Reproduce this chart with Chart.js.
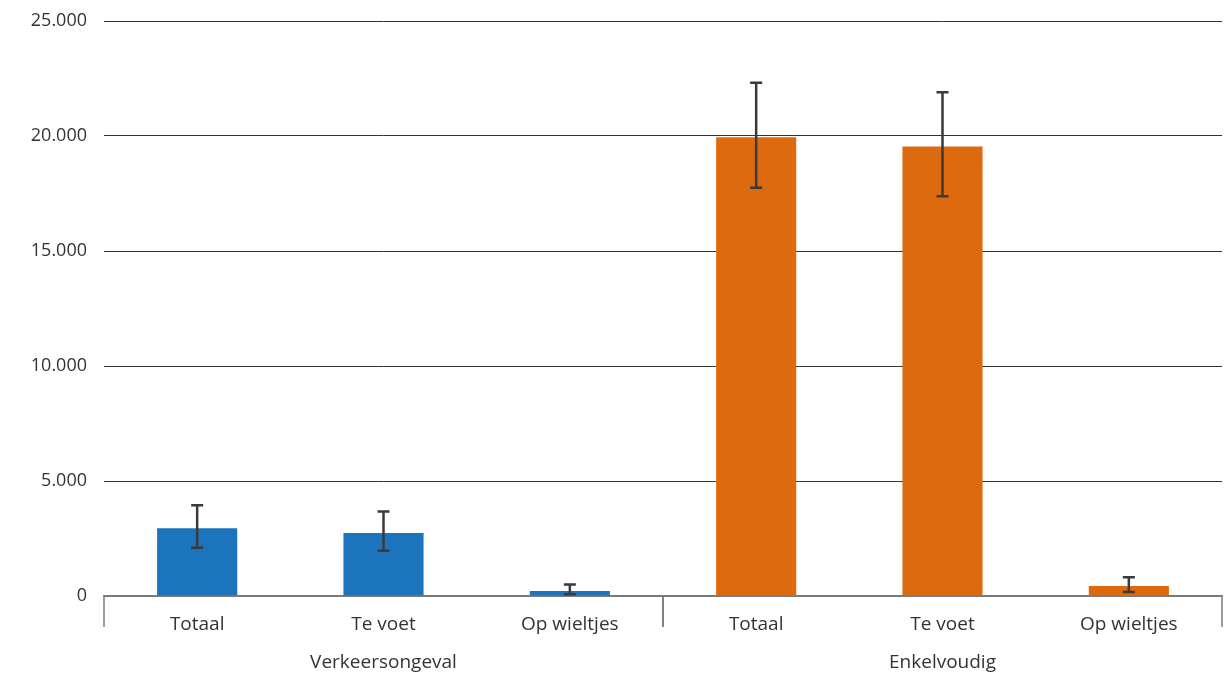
<!DOCTYPE html>
<html>
<head>
<meta charset="utf-8">
<script src="https://cdn.jsdelivr.net/npm/chart.js@4/dist/chart.umd.min.js"></script>
<style>
  html, body { margin: 0; padding: 0; background: #fff; }
  #wrap { width: 1230px; height: 674px; position: relative; }
</style>
</head>
<body>
<div id="wrap"><canvas id="chart" width="1230" height="674"></canvas></div>
<script>
// Subcategory labels under each bar
const categories = ['Totaal', 'Te voet', 'Op wieltjes', 'Totaal', 'Te voet', 'Op wieltjes'];
// Group each bar belongs to (index into groupNames)
const groupIndex = [0, 0, 0, 1, 1, 1];
const groupNames = ['Verkeersongeval', 'Enkelvoudig'];
const groupColors = ['#1C75BC', '#DE6A10'];

// Estimated values and their uncertainty range
const values = [2950, 2740, 220, 19950, 19540, 440];
const lowerBounds = [2100, 1970, 80, 17750, 17380, 170];
const upperBounds = [3950, 3670, 500, 22320, 21900, 820];

// Y axis ticks
const yTicks = [0, 5000, 10000, 15000, 20000, 25000];

const FONT = '"Open Sans", "Noto Sans", sans-serif';
const TEXT = '#333333';

function formatNL(v) {
  return String(v).replace(/\B(?=(\d{3})+(?!\d))/g, '.');
}

// Draws the vertical error bars from the lower/upper bound arrays
const errorBarPlugin = {
  id: 'errorBars',
  afterDatasetsDraw(chart) {
    const ctx = chart.ctx;
    const x = chart.scales.x;
    const y = chart.scales.y;
    ctx.save();
    ctx.strokeStyle = '#3a3a3a';
    ctx.lineWidth = 2.5;
    const cap = 6;
    values.forEach((v, i) => {
      const cx = x.getPixelForValue(i);
      const yl = y.getPixelForValue(lowerBounds[i]);
      const yh = y.getPixelForValue(upperBounds[i]);
      ctx.beginPath();
      ctx.moveTo(cx, yl); ctx.lineTo(cx, yh);
      ctx.moveTo(cx - cap, yl); ctx.lineTo(cx + cap, yl);
      ctx.moveTo(cx - cap, yh); ctx.lineTo(cx + cap, yh);
      ctx.stroke();
    });
    ctx.restore();
  }
};

// Draws the group separators and the group names below the category labels
const groupAxisPlugin = {
  id: 'groupAxis',
  afterDraw(chart) {
    const ctx = chart.ctx;
    const x = chart.scales.x;
    const area = chart.chartArea;
    const half = (x.getPixelForValue(1) - x.getPixelForValue(0)) / 2;
    ctx.save();
    ctx.strokeStyle = '#7a7a7a';
    ctx.lineWidth = 1.5;
    ctx.fillStyle = TEXT;
    ctx.font = '19px ' + FONT;
    ctx.textAlign = 'center';
    ctx.textBaseline = 'middle';
    groupNames.forEach((name, g) => {
      const idx = groupIndex.map((gi, i) => gi === g ? i : -1).filter(i => i >= 0);
      const left = x.getPixelForValue(idx[0]) - half;
      const right = x.getPixelForValue(idx[idx.length - 1]) + half;
      [left, right].forEach(px => {
        ctx.beginPath();
        ctx.moveTo(px, area.bottom);
        ctx.lineTo(px, area.bottom + 31);
        ctx.stroke();
      });
      ctx.fillText(name, (left + right) / 2, area.bottom + 67);
    });
    ctx.restore();
  }
};

new Chart(document.getElementById('chart'), {
  type: 'bar',
  data: {
    labels: categories,
    datasets: [{
      data: values,
      backgroundColor: groupIndex.map(g => groupColors[g]),
      borderWidth: 0,
      categoryPercentage: 1,
      barPercentage: 0.43
    }]
  },
  options: {
    responsive: false,
    animation: false,
    devicePixelRatio: 1,
    layout: { padding: { top: 21, right: 8, left: 0, bottom: 0 } },
    plugins: {
      legend: { display: false },
      tooltip: { enabled: false }
    },
    scales: {
      x: {
        grid: { display: false },
        border: { display: true, color: '#7a7a7a', width: 1.5 },
        ticks: {
          color: TEXT,
          font: { family: FONT, size: 19 },
          padding: 9,
          maxRotation: 0,
          autoSkip: false
        },
        afterFit(scale) { scale.height = 78; }
      },
      y: {
        min: 0,
        max: 25000,
        afterBuildTicks(scale) { scale.ticks = yTicks.map(v => ({ value: v })); },
        grid: {
          color: ctx => ctx.tick && ctx.tick.value === 0 ? '#7a7a7a' : '#333333',
          lineWidth: 1,
          drawTicks: false
        },
        border: { display: false },
        ticks: {
          color: TEXT,
          font: { family: FONT, size: 18 },
          padding: 17,
          callback: v => formatNL(v)
        },
        afterFit(scale) {
          scale.width = 104;
          scale.paddingTop = 0;
          scale.paddingBottom = 0;
        }
      }
    }
  },
  plugins: [errorBarPlugin, groupAxisPlugin]
});
</script>
</body>
</html>
